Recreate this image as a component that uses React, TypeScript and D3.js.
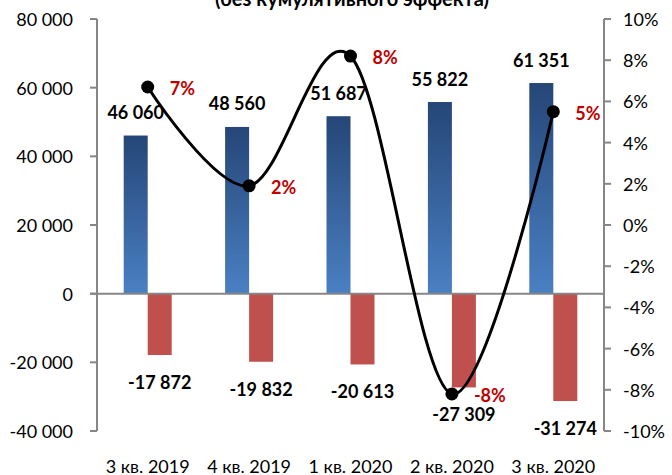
import React from "react";
import * as d3 from "d3";

const categories = ["3 кв. 2019", "4 кв. 2019", "1 кв. 2020", "2 кв. 2020", "3 кв. 2020"];
const positiveValues = [46060, 48560, 51687, 55822, 61351];
const negativeValues = [-17872, -19832, -20613, -27309, -31274];
const growthPct = [6.7, 1.9, 8.2, -8.2, 5.5];
const growthLabels = ["7%", "2%", "8%", "-8%", "5%"];
const leftTicks = [-40000, -20000, 0, 20000, 40000, 60000, 80000];
const rightTicks = [-10, -8, -6, -4, -2, 0, 2, 4, 6, 8, 10];
const title = "(без кумулятивного эффекта)";

const W = 672;
const H = 475;
const left = 97;
const right = 604;
const top = 19;
const bottom = 431;
const FONT = "Lato, 'Liberation Sans', sans-serif";
const AXIS = "#868686";

const locale = d3.formatLocale({
  decimal: ",",
  thousands: " ",
  grouping: [3],
  currency: ["", ""],
  minus: "-",
});
const fmt = locale.format(",");

export default function App() {
  const x = d3.scaleBand<string>().domain(categories).range([left, right]);
  const yL = d3.scaleLinear().domain([-40000, 80000]).range([bottom, top]);
  const yR = d3.scaleLinear().domain([-10, 10]).range([bottom, top]);
  const barW = 24;
  const cx = (c: string) => (x(c) as number) + x.bandwidth() / 2;

  const pts: [number, number][] = categories.map((c, i) => [cx(c), yR(growthPct[i])]);
  const lineGen = d3.line().curve(d3.curveCardinal.tension(0));
  const path = lineGen(pts) || "";

  return (
    <svg
      width={W}
      height={H}
      style={{ position: "absolute", left: 0, top: 0, background: "#fff" }}
      fontFamily={FONT}
    >
      <defs>
        <linearGradient id="blueGrad" x1="0" y1="0" x2="0" y2="1">
          <stop offset="0%" stopColor="#254677" />
          <stop offset="100%" stopColor="#4a80c3" />
        </linearGradient>
      </defs>
      <rect x={0} y={0} width={W} height={H} fill="#fff" />

      <text x={352} y={6} textAnchor="middle" fontSize={20} fontWeight="bold" fill="#000">
        {title}
      </text>

      {/* bars */}
      {categories.map((c, i) => (
        <g key={"b" + c}>
          <rect
            x={cx(c) - barW}
            y={yL(positiveValues[i])}
            width={barW}
            height={yL(0) - yL(positiveValues[i])}
            fill="url(#blueGrad)"
          />
          <rect
            x={cx(c)}
            y={yL(0)}
            width={barW}
            height={yL(negativeValues[i]) - yL(0)}
            fill="#c0504d"
          />
        </g>
      ))}

      {/* axes */}
      <line x1={left} x2={left} y1={top} y2={bottom} stroke={AXIS} strokeWidth={2} />
      <line x1={right} x2={right} y1={top} y2={bottom} stroke={AXIS} strokeWidth={2} />
      <line x1={left - 7} x2={right} y1={yL(0)} y2={yL(0)} stroke={AXIS} strokeWidth={2} />
      {leftTicks.map((t) => (
        <g key={"lt" + t}>
          <line x1={left - 7} x2={left} y1={yL(t)} y2={yL(t)} stroke={AXIS} strokeWidth={2} />
          <text
            x={73}
            y={yL(t)}
            textAnchor="end"
            dominantBaseline="central"
            fontSize={18}
            fill="#000"
          >
            {fmt(t)}
          </text>
        </g>
      ))}
      {rightTicks.map((t) => (
        <g key={"rt" + t}>
          <line x1={right} x2={right + 7} y1={yR(t)} y2={yR(t)} stroke={AXIS} strokeWidth={2} />
          <text
            x={623}
            y={yR(t)}
            textAnchor="start"
            dominantBaseline="central"
            fontSize={18}
            fill="#000"
          >
            {t + "%"}
          </text>
        </g>
      ))}

      {/* x labels */}
      {categories.map((c) => (
        <text
          key={"xl" + c}
          x={cx(c)}
          y={466}
          textAnchor="middle"
          dominantBaseline="central"
          fontSize={18}
          fill="#000"
        >
          {c}
        </text>
      ))}

      {/* line */}
      <path d={path} fill="none" stroke="#000" strokeWidth={3} />
      {pts.map((p, i) => (
        <circle key={"pt" + i} cx={p[0]} cy={p[1]} r={6.5} fill="#000" />
      ))}

      {/* value labels */}
      {categories.map((c, i) => (
        <g key={"vl" + c}>
          <text
            x={cx(c) - barW / 2}
            y={yL(positiveValues[i]) - 23.5}
            textAnchor="middle"
            dominantBaseline="central"
            fontSize={18}
            fontWeight="bold"
            fill="#000"
          >
            {fmt(positiveValues[i])}
          </text>
          <text
            x={cx(c) + barW / 2}
            y={yL(negativeValues[i]) + 27}
            textAnchor="middle"
            dominantBaseline="central"
            fontSize={18}
            fontWeight="bold"
            fill="#000"
          >
            {fmt(negativeValues[i])}
          </text>
          <text
            x={pts[i][0] + 22}
            y={pts[i][1] + 1}
            textAnchor="start"
            dominantBaseline="central"
            fontSize={18}
            fontWeight="bold"
            fill="#c00000"
          >
            {growthLabels[i]}
          </text>
        </g>
      ))}
    </svg>
  );
}
